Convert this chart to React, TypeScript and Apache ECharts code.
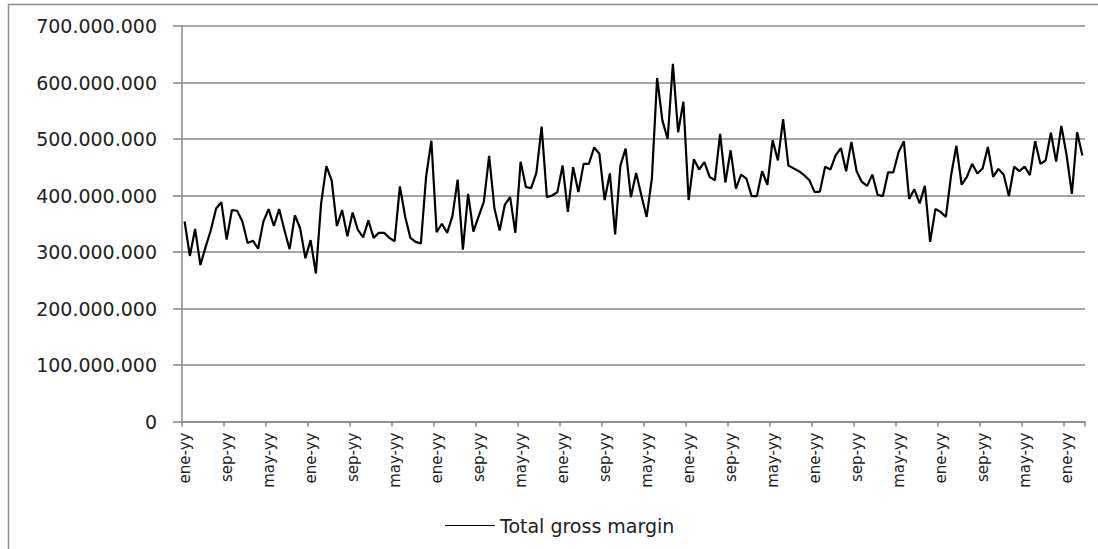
import React, { useEffect, useRef } from "react";
import * as echarts from "echarts";

const monthNames = ["ene", "feb", "mar", "abr", "may", "jun", "jul", "ago", "sep", "oct", "nov", "dic"];

// Total gross margin, in millions (monthly)
const grossMarginM = [
  354, 293, 341, 277, 309, 339, 377, 388, 322, 374, 373, 354, 316, 320, 306, 354, 376, 346, 376, 339,
  305, 365, 342, 289, 321, 262, 386, 452, 427, 346, 374, 328, 370, 339, 326, 356, 325, 334, 334, 325,
  319, 416, 363, 325, 318, 315, 434, 497, 335, 350, 334, 363, 428, 304, 403, 336, 363, 389, 470, 378,
  338, 384, 397, 334, 460, 415, 413, 440, 522, 397, 400, 406, 453, 371, 450, 406, 456, 456, 485, 474,
  392, 439, 331, 453, 483, 397, 440, 400, 362, 430, 608, 533, 500, 633, 512, 566, 392, 464, 446, 459,
  433, 427, 509, 423, 480, 412, 437, 430, 399, 399, 443, 419, 498, 462, 535, 453, 448, 443, 436, 427,
  406, 407, 451, 446, 471, 484, 443, 495, 443, 424, 417, 437, 401, 399, 441, 441, 477, 496, 394, 411,
  386, 417, 318, 376, 371, 362, 436, 488, 419, 433, 456, 439, 448, 486, 433, 447, 437, 399, 451, 443,
  451, 436, 496, 456, 462, 511, 460, 523, 471, 403, 512, 471,
];

const seriesName = "Total gross margin";
const categories = grossMarginM.map((_, i) => monthNames[i % 12] + "-yy");
const values = grossMarginM.map((v) => v * 1000000);

const fmt = (v: number) => String(Math.round(v)).replace(/\B(?=(\d{3})+(?!\d))/g, ".");

export default function App() {
  const ref = useRef<HTMLDivElement>(null);
  useEffect(() => {
    if (!ref.current) return;
    const chart = echarts.init(ref.current, null, { renderer: "svg" });
    chart.setOption({
      animation: false,
      backgroundColor: "#ffffff",
      textStyle: { fontFamily: "DejaVu Sans" },
      grid: { left: 182, right: 13, top: 26, bottom: 127.5, containLabel: false },
      graphic: [
        {
          type: "rect",
          silent: true,
          shape: { x: 8.5, y: 4.5, width: 1200, height: 700 },
          style: { fill: "none", stroke: "#8c8c8c", lineWidth: 1.5 },
        },
      ],
      legend: {
        left: 440,
        top: 511,
        itemWidth: 50,
        itemHeight: 14,
        itemGap: 4,
        textStyle: { fontFamily: "DejaVu Sans", fontSize: 19, color: "#222" },
        data: [{ name: seriesName, icon: "path://M0,0L50,0L50,1.2L0,1.2Z" }],
        itemStyle: { color: "#000" },
      },
      xAxis: {
        type: "category",
        data: categories,
        boundaryGap: true,
        axisLine: { show: true, lineStyle: { color: "#888", width: 1.5 } },
        axisTick: { show: true, interval: 7, length: 5, lineStyle: { color: "#888", width: 1.5 } },
        axisLabel: {
          interval: 7,
          rotate: 90,
          margin: 11,
          fontSize: 15,
          color: "#222",
          fontFamily: "DejaVu Sans",
        },
        splitLine: { show: false },
      },
      yAxis: {
        type: "value",
        min: 0,
        max: 700000000,
        interval: 100000000,
        axisLine: { show: true, lineStyle: { color: "#888", width: 1.5 } },
        axisTick: { show: true, inside: false, length: 9, lineStyle: { color: "#888", width: 1.5 } },
        axisLabel: {
          margin: 25,
          fontSize: 19,
          color: "#222",
          fontFamily: "DejaVu Sans",
          formatter: (v: number) => fmt(v),
        },
        splitLine: { show: true, lineStyle: { color: "#888", width: 1.5 } },
      },
      series: [
        {
          name: seriesName,
          type: "line",
          data: values,
          symbol: "none",
          showSymbol: false,
          lineStyle: { color: "#000", width: 2.2 },
          itemStyle: { color: "#000" },
        },
      ],
    });
    return () => chart.dispose();
  }, []);
  return (
    <div
      ref={ref}
      style={{ position: "fixed", left: 0, top: 0, width: 1098, height: 549, background: "#fff" }}
    />
  );
}
